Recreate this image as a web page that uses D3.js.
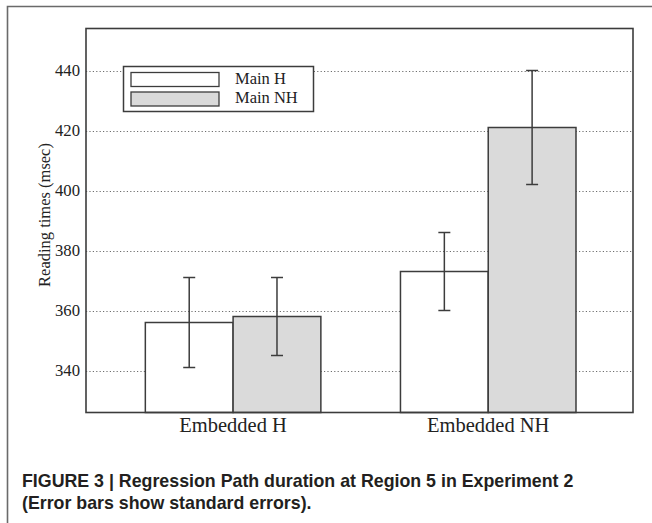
<!DOCTYPE html>
<html>
<head>
<meta charset="utf-8">
<script src="https://cdn.jsdelivr.net/npm/d3@7"></script>
<style>
  html, body { margin: 0; padding: 0; background: #fff; }
  svg { display: block; }
</style>
</head>
<body>
<svg id="chart" width="652" height="523"></svg>
<script>
const categories = ["Embedded H", "Embedded NH"];
const seriesNames = ["Main H", "Main NH"];
const mainH = [356, 373];
const mainNH = [358, 421];
const mainH_se = [15, 13];
const mainNH_se = [13, 19];
const yTicks = [340, 360, 380, 400, 420, 440];
const captionLines = [
  "FIGURE 3 | Regression Path duration at Region 5 in Experiment 2",
  "(Error bars show standard errors)."
];

const svg = d3.select("#chart");
const serif = "'Liberation Serif', 'DejaVu Serif', serif";
const sans = "'Liberation Sans', Arial, sans-serif";
const lineCol = "#3c3c3c";
const fills = ["#ffffff", "#dadada"];

// outer frame (left and top visible)
svg.append("path")
  .attr("d", "M7.5,530 L7.5,6.5 L660,6.5")
  .attr("fill", "none").attr("stroke", "#6a6a6a").attr("stroke-width", 1.6);

const L = 86, R = 633, T = 28.5, B = 412.5;

const x0 = d3.scaleBand().domain(categories).range([L, R])
  .paddingInner(0.312).paddingOuter(0.228).align(0.51);
const x1 = d3.scaleBand().domain(seriesNames).range([0, x0.bandwidth()]);
const y = d3.scaleLinear().domain([326, 454]).range([B, T]);

// gridlines
svg.append("g").selectAll("line").data(yTicks).join("line")
  .attr("x1", L).attr("x2", R)
  .attr("y1", d => Math.round(y(d)) + 0.5).attr("y2", d => Math.round(y(d)) + 0.5)
  .attr("stroke", "#6e6e6e").attr("stroke-width", 1)
  .attr("stroke-dasharray", "1.2,2.2");

// y axis labels via d3 axis
const yAxis = d3.axisLeft(y).tickValues(yTicks).tickSize(0).tickPadding(6);
const gy = svg.append("g").attr("transform", `translate(${L},0)`).call(yAxis);
gy.select(".domain").remove();
gy.selectAll("text").attr("font-family", serif).attr("font-size", 16.7)
  .attr("fill", "#222");

// bars
const data = categories.map((c, i) => ({
  cat: c,
  vals: [
    { s: seriesNames[0], v: mainH[i], e: mainH_se[i] },
    { s: seriesNames[1], v: mainNH[i], e: mainNH_se[i] }
  ]
}));

const groups = svg.append("g").selectAll("g").data(data).join("g")
  .attr("transform", d => `translate(${x0(d.cat)},0)`);

groups.selectAll("rect").data(d => d.vals).join("rect")
  .attr("x", d => x1(d.s))
  .attr("width", x1.bandwidth())
  .attr("y", d => y(d.v))
  .attr("height", d => B - y(d.v))
  .attr("fill", (d, i) => fills[i])
  .attr("stroke", lineCol).attr("stroke-width", 1.5);

// error bars
const cap = 6;
const eb = groups.selectAll("g.eb").data(d => d.vals).join("g").attr("class", "eb");
eb.append("line")
  .attr("x1", d => x1(d.s) + x1.bandwidth() / 2)
  .attr("x2", d => x1(d.s) + x1.bandwidth() / 2)
  .attr("y1", d => y(d.v + d.e)).attr("y2", d => y(d.v - d.e))
  .attr("stroke", lineCol).attr("stroke-width", 1.5);
eb.append("line")
  .attr("x1", d => x1(d.s) + x1.bandwidth() / 2 - cap)
  .attr("x2", d => x1(d.s) + x1.bandwidth() / 2 + cap)
  .attr("y1", d => y(d.v + d.e)).attr("y2", d => y(d.v + d.e))
  .attr("stroke", lineCol).attr("stroke-width", 1.5);
eb.append("line")
  .attr("x1", d => x1(d.s) + x1.bandwidth() / 2 - cap)
  .attr("x2", d => x1(d.s) + x1.bandwidth() / 2 + cap)
  .attr("y1", d => y(d.v - d.e)).attr("y2", d => y(d.v - d.e))
  .attr("stroke", lineCol).attr("stroke-width", 1.5);

// plot box
svg.append("rect")
  .attr("x", L).attr("y", T).attr("width", R - L).attr("height", B - T)
  .attr("fill", "none").attr("stroke", lineCol).attr("stroke-width", 1.6);

// x axis labels
const xAxis = d3.axisBottom(x0).tickSize(0).tickPadding(5);
const gx = svg.append("g").attr("transform", `translate(0,${B})`).call(xAxis);
gx.select(".domain").remove();
gx.selectAll("text").attr("font-family", serif).attr("font-size", 20.5)
  .attr("fill", "#222");

// y label
svg.append("text")
  .attr("transform", "translate(50,215) rotate(-90)")
  .attr("text-anchor", "middle")
  .attr("font-family", serif).attr("font-size", 16.5).attr("fill", "#222")
  .text("Reading times (msec)");

// legend
const lg = svg.append("g");
lg.append("rect").attr("x", 123.5).attr("y", 66.5).attr("width", 190).attr("height", 45)
  .attr("fill", "#fff").attr("stroke", lineCol).attr("stroke-width", 1.5);
seriesNames.forEach((s, i) => {
  lg.append("rect").attr("x", 131).attr("y", 72.5 + i * 19.5).attr("width", 88).attr("height", 14)
    .attr("fill", fills[i]).attr("stroke", lineCol).attr("stroke-width", 1.3);
  lg.append("text").attr("x", 235).attr("y", 84 + i * 18.5)
    .attr("font-family", serif).attr("font-size", 16.5).attr("fill", "#222").text(s);
});

// caption
captionLines.forEach((t, i) => {
  svg.append("text").attr("x", 22).attr("y", 486.5 + i * 22.5)
    .attr("font-family", sans).attr("font-weight", "bold").attr("font-size", 17.8)
    .attr("fill", "#231f20").text(t);
});
</script>
</body>
</html>
